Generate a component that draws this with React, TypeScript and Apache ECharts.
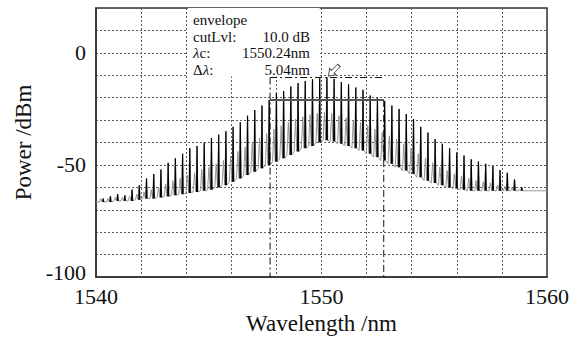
import React, { useEffect, useRef } from "react";
import * as echarts from "echarts";

// Comb line wavelengths (nm)
const combWavelengths = [
  1540.32, 1540.64, 1540.96, 1541.28, 1541.6, 1541.92, 1542.24, 1542.56, 1542.88, 1543.2,
  1543.52, 1543.84, 1544.16, 1544.48, 1544.8, 1545.12, 1545.44, 1545.76, 1546.08, 1546.4,
  1546.72, 1547.04, 1547.36, 1547.68, 1548.0, 1548.32, 1548.64, 1548.96, 1549.28, 1549.6,
  1549.92, 1550.24, 1550.56, 1550.88, 1551.2, 1551.52, 1551.84, 1552.16, 1552.48, 1552.8,
  1553.12, 1553.44, 1553.76, 1554.08, 1554.4, 1554.72, 1555.04, 1555.36, 1555.68, 1556.0,
  1556.32, 1556.64, 1556.96, 1557.28, 1557.6, 1557.92, 1558.24, 1558.56, 1558.88,
];
// Main spike tops (dBm)
const peakPower = [
  -65, -64, -63, -63.5, -61, -59, -56, -54, -52, -49,
  -47, -45, -42.5, -41.5, -40, -38, -36.5, -35, -33, -31,
  -28, -25.5, -23.5, -21, -18, -17, -15, -13.5, -12.5, -11.8,
  -11.3, -11, -11.6, -13, -14, -15.5, -16.5, -19, -20, -21.5,
  -23.5, -25, -27.3, -29.5, -33, -35.5, -38.4, -40.5, -42.5, -44.4,
  -45.8, -47.5, -48.5, -49.5, -50.5, -52.3, -53.5, -56.5, -60,
];
// Secondary (grey) humps between spikes (dBm)
const sidePeakPower = [
  -65, -65, -64.5, -64.5, -64, -63, -62, -61, -60, -58.5,
  -57, -56, -54.5, -53.5, -52, -51, -49.5, -48, -46, -44,
  -42, -40, -38, -36, -34, -32.5, -31, -29.5, -28.5, -27.5,
  -27, -26.5, -27, -28, -29, -30, -31, -32.5, -34, -35.5,
  -37, -38.5, -40.5, -42.5, -45, -47, -49, -51, -52.5, -54,
  -55, -56, -57, -57.5, -58, -59, -59.5, -60, -61,
];
// Valley floor (dBm)
const valleyPower = [
  -66.5, -66.5, -66, -66, -66, -65.5, -65, -65, -64.5, -64,
  -63.5, -63, -62.5, -62, -61.5, -61, -60, -59, -57.5, -56,
  -54.5, -53, -51.5, -50, -48.5, -47, -45.5, -44, -42.5, -41.5,
  -40, -39, -39.5, -40.5, -41.5, -42.5, -43.5, -45, -46.5, -48,
  -49.5, -51, -52.5, -54, -55.5, -57, -58, -59, -60, -60.5,
  -61, -61.5, -61.5, -61.5, -61.5, -61.5, -61.5, -61.5, -61.5,
];
const baselineStart = [1540, -66.5];
const baselineEnd = [1560, -61.5];

const xTickLabels = [1540, 1550, 1560];
const yTickLabels = [0, -50, -100];

// Envelope measurement
const envelopeCenter = 1550.24; // nm
const envelopeWidth = 5.04; // nm
const cutLevel = 10.0; // dB
const envelopePeak = -11; // dBm

const FONT = "Liberation Serif";

export default function App() {
  const ref = useRef<HTMLDivElement>(null);

  useEffect(() => {
    const chart = echarts.init(ref.current!, null, { renderer: "svg" });

    const trace: any[] = [baselineStart];
    const spikes: any[] = [];
    combWavelengths.forEach((w, i) => {
      const v = valleyPower[i];
      trace.push([w - 0.17, v]);
      trace.push([w - 0.11, sidePeakPower[i]]);
      trace.push([w - 0.05, v]);
      trace.push([w, peakPower[i]]);
      trace.push([w + 0.04, v]);
      spikes.push([w - 0.02, v]);
      spikes.push([w, peakPower[i]]);
      spikes.push([w + 0.02, v]);
      spikes.push([null, null]);
    });
    trace.push(baselineEnd);

    const left = envelopeCenter - envelopeWidth / 2;
    const right = envelopeCenter + envelopeWidth / 2;
    const cutPower = envelopePeak - cutLevel;
    const dashDot = [7, 3, 2, 3];
    const txt = (x: number, y: number, text: string, align = "left", rich?: any) => ({
      type: "text",
      x,
      y,
      silent: true,
      z: 20,
      style: {
        text,
        font: `15px "${FONT}"`,
        fill: "#111",
        align,
        verticalAlign: "middle",
        rich,
      },
    });
    const italic = { i: { fontStyle: "italic", fontFamily: FONT, fontSize: 15, fill: "#111" } };
    const yMin = -100;

    const option: any = {
      animation: false,
      backgroundColor: "#fff",
      textStyle: { fontFamily: FONT },
      grid: {
        left: 96,
        right: 33,
        top: 8,
        bottom: 62,
        show: true,
        borderColor: "#333",
        borderWidth: 1.5,
        backgroundColor: "#fff",
      },
      xAxis: {
        type: "value",
        min: 1540,
        max: 1560,
        interval: 2,
        name: "Wavelength /nm",
        nameLocation: "middle",
        nameGap: 31,
        nameTextStyle: { fontFamily: FONT, fontSize: 23, color: "#111" },
        axisLine: { show: true, onZero: false, lineStyle: { color: "#333", width: 1.5 } },
        axisTick: { show: false },
        axisLabel: {
          showMinLabel: true,
          showMaxLabel: true,
          fontFamily: FONT,
          fontSize: 22,
          color: "#111",
          margin: 8,
          formatter: (v: number) => (xTickLabels.includes(Math.round(v)) ? String(Math.round(v)) : ""),
        },
        splitLine: { show: true, lineStyle: { type: [2, 2], color: "#5a5a5a", width: 1 } },
      },
      yAxis: {
        type: "value",
        min: yMin,
        max: 20,
        interval: 10,
        name: "Power /dBm",
        nameLocation: "middle",
        nameGap: 56,
        nameTextStyle: { fontFamily: FONT, fontSize: 23, color: "#111" },
        axisLine: { show: true, onZero: false, lineStyle: { color: "#333", width: 1.5 } },
        axisTick: { show: false },
        axisLabel: {
          showMinLabel: true,
          showMaxLabel: true,
          fontFamily: FONT,
          fontSize: 22,
          color: "#111",
          margin: 10,
          formatter: (v: number) => {
            const r = Math.round(v);
            if (!yTickLabels.includes(r)) return "";
            return r === yMin ? `{low|${r}}` : String(r);
          },
          rich: {
            low: { fontFamily: FONT, fontSize: 22, color: "#111", padding: [0, 0, 9, 0] },
          },
        },
        splitLine: { show: true, lineStyle: { type: [2, 2], color: "#5a5a5a", width: 1 } },
      },
      series: [
        {
          name: "box",
          type: "line",
          data: [],
          z: 1,
          markArea: {
            silent: true,
            itemStyle: { color: "#fff" },
            data: [[{ coord: [1544.08, 20] }, { coord: [1549.92, -10.6] }]],
          },
        },
        {
          name: "trace",
          type: "line",
          data: trace,
          showSymbol: false,
          symbol: "none",
          z: 3,
          lineStyle: { color: "#8a8a8a", width: 0.9 },
        },
        {
          name: "spikes",
          type: "line",
          data: spikes,
          connectNulls: false,
          showSymbol: false,
          symbol: "none",
          z: 4,
          lineStyle: { color: "#000", width: 1.2 },
        },
        {
          name: "cut",
          type: "line",
          data: [[left, cutPower], [right, cutPower]],
          symbol: "none",
          z: 5,
          lineStyle: { color: "#555", width: 2 },
        },
        {
          name: "peakLine",
          type: "line",
          data: [[left, envelopePeak], [right, envelopePeak]],
          symbol: "none",
          z: 5,
          lineStyle: { color: "#111", width: 1, type: dashDot },
          markPoint: {
            silent: true,
            symbol: "path://M0,5 L5,0 L5,3 L12,3 L12,7 L5,7 L5,10 Z",
            symbolSize: [15, 9],
            symbolRotate: 45,
            itemStyle: { color: "#fff", borderColor: "#555", borderWidth: 1 },
            label: { show: false },
            data: [{ coord: [envelopeCenter + 0.3, envelopePeak + 3] }],
          },
        },
        {
          name: "leftEdge",
          type: "line",
          data: [[left, envelopePeak], [left, -100]],
          symbol: "none",
          z: 5,
          lineStyle: { color: "#111", width: 1, type: dashDot },
        },
        {
          name: "rightEdge",
          type: "line",
          data: [[right, cutPower], [right, -100]],
          symbol: "none",
          z: 5,
          lineStyle: { color: "#111", width: 1, type: dashDot },
        },
      ],
      graphic: [
        txt(193, 20, "envelope"),
        txt(193, 36.7, "cutLvl:"),
        txt(310, 36.7, `${cutLevel.toFixed(1)} dB`, "right"),
        txt(193, 53.3, "{i|λ}c:", "left", italic),
        txt(310, 53.3, `${envelopeCenter.toFixed(2)}nm`, "right"),
        txt(193, 70, "Δ{i|λ}:", "left", italic),
        txt(310, 70, `${envelopeWidth.toFixed(2)}nm`, "right"),
      ],
    };

    chart.setOption(option);
    return () => chart.dispose();
  }, []);

  return (
    <div
      ref={ref}
      style={{ position: "fixed", left: 0, top: 0, width: 580, height: 340, background: "#fff" }}
    />
  );
}
